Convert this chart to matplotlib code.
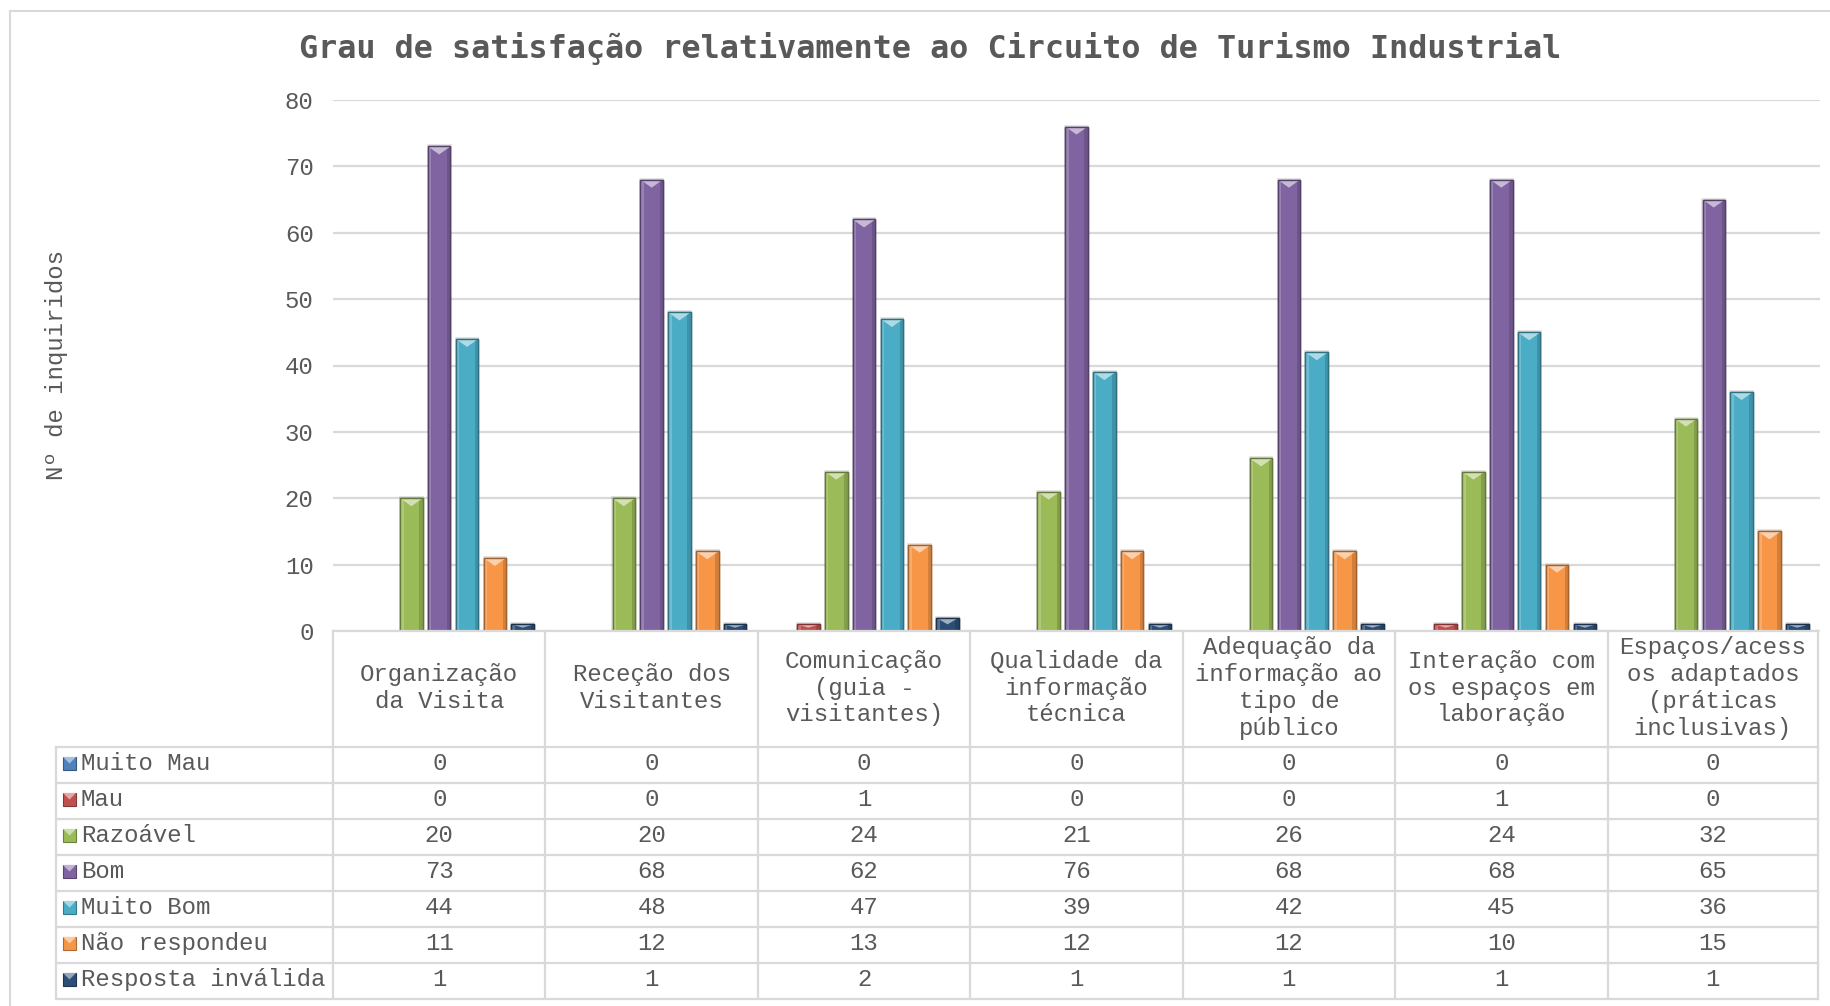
import matplotlib
matplotlib.use("Agg")
import matplotlib.pyplot as plt
from matplotlib.patches import Rectangle, Polygon
import matplotlib.colors as mcolors
import numpy as np

# ---------------- data ----------------
title = "Grau de satisfação relativamente ao Circuito de Turismo Industrial"
ylabel = "Nº de inquiridos"
categories = [
    "Organização\nda Visita",
    "Receção dos\nVisitantes",
    "Comunicação\n(guia -\nvisitantes)",
    "Qualidade da\ninformação\ntécnica",
    "Adequação da\ninformação ao\ntipo de\npúblico",
    "Interação com\nos espaços em\nlaboração",
    "Espaços/acess\nos adaptados\n(práticas\ninclusivas)",
]
series_names = ["Muito Mau", "Mau", "Razoável", "Bom", "Muito Bom",
                "Não respondeu", "Resposta inválida"]
muito_mau = [0, 0, 0, 0, 0, 0, 0]
mau = [0, 0, 1, 0, 0, 1, 0]
razoavel = [20, 20, 24, 21, 26, 24, 32]
bom = [73, 68, 62, 76, 68, 68, 65]
muito_bom = [44, 48, 47, 39, 42, 45, 36]
nao_respondeu = [11, 12, 13, 12, 12, 10, 15]
resposta_invalida = [1, 1, 2, 1, 1, 1, 1]
series_values = [muito_mau, mau, razoavel, bom, muito_bom, nao_respondeu, resposta_invalida]
y_ticks = [0, 10, 20, 30, 40, 50, 60, 70, 80]

# ---------------- style ----------------
colors = ["#4F81BD", "#C0504D", "#9BBB59", "#8064A2", "#4BACC6", "#F79646", "#2C4D75"]
text_color = "#595959"
grid_color = "#D9D9D9"
mono = ["Liberation Mono", "DejaVu Sans Mono"]
title_font = ["DejaVu Sans Mono"]
fs = 17.3

W, H = 1830, 1006
fig = plt.figure(figsize=(W / 100, H / 100), dpi=100)
fig.patch.set_facecolor("white")

left_px, right_px, top_px, bottom_px = 333, 1820, 100, 631
ax = fig.add_axes([left_px / W, 1 - bottom_px / H, (right_px - left_px) / W,
                   (bottom_px - top_px) / H])
n_cat = len(categories)
ax.set_xlim(-0.5, n_cat - 0.5)
ax.set_ylim(0, 80)
ax.set_yticks(y_ticks)
ax.set_yticklabels([str(t) for t in y_ticks], fontsize=fs, color=text_color, family=mono)
ax.tick_params(axis="y", length=0, pad=14)
for lab in ax.get_yticklabels():
    lab.set_y(lab.get_position()[1])
ax.set_xticks([])
for s in ax.spines.values():
    s.set_visible(False)
ax.yaxis.grid(True, color=grid_color, lw=1.6)
ax.set_axisbelow(True)


def lighten(c, f):
    r, g, b = mcolors.to_rgb(c)
    return (r + (1 - r) * f, g + (1 - g) * f, b + (1 - b) * f)


def darken(c, f):
    r, g, b = mcolors.to_rgb(c)
    return (r * (1 - f), g * (1 - f), b * (1 - f))


spacing = 0.131
bar_w = 0.106
px_per_unit = (bottom_px - top_px) / 80.0
bevel = 8 / px_per_unit
x = np.arange(n_cat)
for si, (vals, col) in enumerate(zip(series_values, colors)):
    offs = (si - 3) * spacing
    for ci, v in enumerate(vals):
        if v <= 0:
            continue
        xc = x[ci] + offs
        x0 = xc - bar_w / 2
        # soft shadow
        ax.add_patch(Rectangle((x0 - 0.005, 0), bar_w + 0.010, v + 0.3,
                               facecolor="#000000", alpha=0.10, lw=0, zorder=2))
        ax.add_patch(Rectangle((x0, 0), bar_w, v, facecolor=col,
                               edgecolor=darken(col, 0.35), lw=1.0, zorder=3))
        # side shading
        ax.add_patch(Rectangle((x0, 0), bar_w * 0.15, v, facecolor=lighten(col, 0.2),
                               lw=0, zorder=3.5))
        ax.add_patch(Rectangle((x0 + bar_w * 0.85, 0), bar_w * 0.15, v,
                               facecolor=darken(col, 0.15), lw=0, zorder=3.5))
        d = min(bevel, v * 0.5)
        ax.add_patch(Polygon([(x0, v), (x0 + bar_w, v), (xc, v - d)], closed=True,
                             facecolor=lighten(col, 0.55), lw=0, zorder=4))
        ax.add_patch(Rectangle((x0, 0), bar_w, v, facecolor="none",
                               edgecolor=darken(col, 0.35), lw=1.0, zorder=4.5))

# ---------------- overlay (title, label, table) ----------------
ov = fig.add_axes([0, 0, 1, 1], facecolor="none")
ov.set_xlim(0, W)
ov.set_ylim(H, 0)
ov.axis("off")

# chart border (cropped on right/bottom)
ov.plot([10, 10], [11, H], color="#D9D9D9", lw=1.5)
ov.plot([10, W], [11, 11], color="#D9D9D9", lw=1.5)

ov.text(930, 48, title, ha="center", va="center", fontsize=22.9, fontweight="bold",
        color=text_color, family=title_font)
ov.text(56, 365, ylabel, ha="center", va="center", rotation=90, fontsize=fs,
        color=text_color, family=mono)

table_left = 56
row_top = 747
row_h = 36
n_rows = len(series_names)
table_bottom = row_top + n_rows * row_h
col_w = (right_px - left_px) / n_cat
col_edges = [left_px + i * col_w for i in range(n_cat + 1)]
table_right = col_edges[-1] - 2
col_edges[-1] = table_right
lc = "#D9D9D9"
lw = 1.6
# header top line (axis line)
ov.plot([left_px, table_right], [bottom_px, bottom_px], color=lc, lw=lw, zorder=5)
# vertical column lines
for ex in col_edges:
    ov.plot([ex, ex], [bottom_px, table_bottom], color=lc, lw=lw)
ov.plot([table_left, table_left], [row_top, table_bottom], color=lc, lw=lw)
for r in range(n_rows + 1):
    yy = row_top + r * row_h
    ov.plot([table_left, table_right], [yy, yy], color=lc, lw=lw)

# header text
for ci, cat in enumerate(categories):
    cx = (col_edges[ci] + col_edges[ci + 1]) / 2
    ov.text(cx, (bottom_px + row_top) / 2 - 1, cat, ha="center", va="center",
            fontsize=fs, color=text_color, family=mono, linespacing=1.22,
            multialignment="center")

# rows
for r, (name, vals, col) in enumerate(zip(series_names, series_values, colors)):
    yc = row_top + r * row_h + row_h / 2 - 1.5
    # legend icon
    ix, isz = 63, 13
    ov.add_patch(Rectangle((ix, yc - isz / 2), isz, isz, facecolor=col,
                           edgecolor=darken(col, 0.3), lw=0.8))
    ov.add_patch(Polygon([(ix, yc - isz / 2), (ix + isz, yc - isz / 2), (ix + isz / 2, yc)],
                         closed=True, facecolor=lighten(col, 0.5), lw=0))
    ov.text(81, yc, name, ha="left", va="center", fontsize=fs, color=text_color,
            family=mono)
    for ci, v in enumerate(vals):
        cx = (col_edges[ci] + col_edges[ci + 1]) / 2
        ov.text(cx, yc, str(v), ha="center", va="center", fontsize=fs,
                color=text_color, family=mono)

fig.savefig("out.png", dpi=100, facecolor="white")
